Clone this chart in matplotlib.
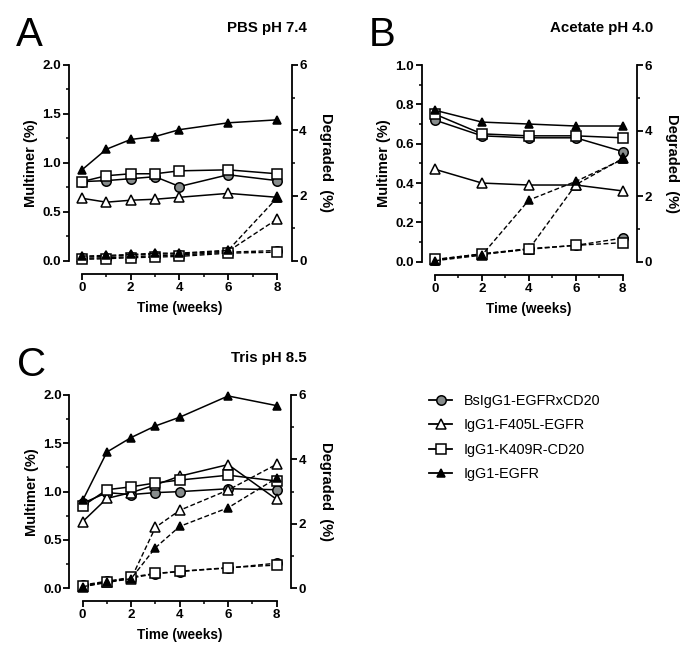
import matplotlib
matplotlib.use("Agg")
import matplotlib.pyplot as plt
from matplotlib.lines import Line2D
from matplotlib.ticker import MultipleLocator

plt.rcParams["font.family"] = ["Liberation Sans", "DejaVu Sans"]

# --- data ---
weeks_A = [0, 1, 2, 3, 4, 6, 8]
weeks_B = [0, 2, 4, 6, 8]
weeks_C = [0, 1, 2, 3, 4, 6, 8]

# PBS pH 7.4
bs_A_mult = [0.81, 0.82, 0.84, 0.86, 0.76, 0.88, 0.82]
f405_A_mult = [0.64, 0.60, 0.62, 0.63, 0.65, 0.69, 0.65]
k409_A_mult = [0.81, 0.87, 0.89, 0.89, 0.92, 0.93, 0.89]
egfr_A_mult = [0.93, 1.14, 1.24, 1.27, 1.34, 1.41, 1.44]
bs_A_deg = [0.08, 0.10, 0.13, 0.16, 0.18, 0.27, 0.32]
f405_A_deg = [0.12, 0.14, 0.18, 0.21, 0.22, 0.30, 1.28]
k409_A_deg = [0.05, 0.07, 0.10, 0.12, 0.14, 0.24, 0.27]
egfr_A_deg = [0.15, 0.17, 0.20, 0.24, 0.24, 0.33, 1.93]

# Acetate pH 4.0
bs_B_mult = [0.72, 0.64, 0.63, 0.63, 0.56]
f405_B_mult = [0.47, 0.40, 0.39, 0.39, 0.36]
k409_B_mult = [0.75, 0.65, 0.64, 0.64, 0.63]
egfr_B_mult = [0.77, 0.71, 0.70, 0.69, 0.69]
bs_B_deg = [0.06, 0.24, 0.40, 0.50, 0.72]
f405_B_deg = [0.05, 0.22, 0.38, 2.35, 3.15]
k409_B_deg = [0.07, 0.24, 0.38, 0.50, 0.58]
egfr_B_deg = [0.03, 0.20, 1.88, 2.45, 3.12]

# Tris pH 8.5
bs_C_mult = [0.88, 0.99, 0.97, 0.99, 1.00, 1.03, 1.02]
f405_C_mult = [0.69, 0.93, 0.99, 1.07, 1.16, 1.28, 0.92]
k409_C_mult = [0.85, 1.02, 1.05, 1.09, 1.12, 1.17, 1.11]
egfr_C_mult = [0.91, 1.41, 1.56, 1.68, 1.77, 1.99, 1.89]
bs_C_deg = [0.10, 0.22, 0.32, 0.45, 0.52, 0.63, 0.78]
f405_C_deg = [0.05, 0.20, 0.30, 1.89, 2.42, 3.05, 3.85]
k409_C_deg = [0.07, 0.20, 0.35, 0.46, 0.53, 0.64, 0.72]
egfr_C_deg = [0.05, 0.18, 0.30, 1.26, 1.92, 2.50, 3.42]

series_names = ["BsIgG1-EGFRxCD20", "IgG1-F405L-EGFR", "IgG1-K409R-CD20", "IgG1-EGFR"]

# marker style per series: (marker, facecolor, size)
STYLES = [
    ("o", "#878c8c", 6.8),
    ("^", "white", 7.2),
    ("s", "white", 7.0),
    ("^", "black", 5.2),
]


def draw_panel(rect, letter, title, weeks, mult, deg, ymax, ymajor, yminor):
    ax = fig.add_axes(rect)
    ax2 = ax.twinx()
    ax.set_xlim(0, 8)
    ax.set_ylim(0, ymax)
    ax2.set_ylim(0, 6)

    # degraded (dashed) first, multimer (solid) on top
    for vals, (m, fc, ms) in zip(deg, STYLES):
        ax2.plot(weeks, vals, ls=(0, (3.5, 1.8)), color="black", lw=1.0,
                 marker=m, mfc=fc, mec="black", ms=ms, mew=1.1, clip_on=False, zorder=3)
    for vals, (m, fc, ms) in zip(mult, STYLES):
        ax.plot(weeks, vals, ls="-", color="black", lw=1.1,
                marker=m, mfc=fc, mec="black", ms=ms, mew=1.1, clip_on=False, zorder=3)

    for a in (ax, ax2):
        a.spines["top"].set_visible(False)
        a.patch.set_visible(False)
    ax.spines["right"].set_visible(False)
    ax2.spines["left"].set_visible(False)
    ax2.spines["bottom"].set_visible(False)
    ax.spines["left"].set_position(("outward", 9.5))
    ax.spines["bottom"].set_position(("outward", 9.5))
    ax2.spines["right"].set_position(("outward", 10.5))
    ax.spines["left"].set_bounds(0, ymax)
    ax.spines["bottom"].set_bounds(0, 8)
    ax2.spines["right"].set_bounds(0, 6)
    for s in ("left", "bottom"):
        ax.spines[s].set_linewidth(1.3)
    ax2.spines["right"].set_linewidth(1.3)

    ax.xaxis.set_major_locator(MultipleLocator(2))
    ax.xaxis.set_minor_locator(MultipleLocator(1))
    ax.yaxis.set_major_locator(MultipleLocator(ymajor))
    ax.yaxis.set_minor_locator(MultipleLocator(yminor))
    ax2.yaxis.set_major_locator(MultipleLocator(2))
    ax2.yaxis.set_minor_locator(MultipleLocator(1))
    ax.yaxis.set_major_formatter(plt.FormatStrFormatter("%.1f"))

    for a in (ax, ax2):
        a.tick_params(which="major", length=4, width=1.3, labelsize=9.6, pad=1.5)
        a.tick_params(which="minor", length=2.5, width=1.1)
        for lab in a.get_xticklabels() + a.get_yticklabels():
            lab.set_fontweight("bold")

    ax.set_xlabel("Time (weeks)", fontsize=9.8, fontweight="bold", labelpad=5)
    ax.set_ylabel("Multimer (%)", fontsize=10.5, fontweight="bold", labelpad=3)
    ax2.set_ylabel("Degraded  (%)", fontsize=10.5, fontweight="bold", rotation=-90, labelpad=19)

    x0, y0, w, h = rect
    fig.text(x0 + w + 0.043, y0 + h + 0.056, title, ha="right", va="center",
             fontsize=10.8, fontweight="bold")
    fig.text(x0 - 0.094, y0 + h + 0.045, letter, ha="left", va="center", fontsize=29)
    return ax


fig = plt.figure(figsize=(7.0, 6.67), dpi=100)

draw_panel([0.1171, 0.6087, 0.2786, 0.2939], "A", "PBS pH 7.4", weeks_A,
           [bs_A_mult, f405_A_mult, k409_A_mult, egfr_A_mult],
           [bs_A_deg, f405_A_deg, k409_A_deg, egfr_A_deg], 2.0, 0.5, 0.25)
draw_panel([0.6214, 0.6076, 0.2682, 0.2949], "B", "Acetate pH 4.0", weeks_B,
           [bs_B_mult, f405_B_mult, k409_B_mult, egfr_B_mult],
           [bs_B_deg, f405_B_deg, k409_B_deg, egfr_B_deg], 1.0, 0.2, 0.1)
draw_panel([0.1181, 0.1180, 0.2771, 0.2898], "C", "Tris pH 8.5", weeks_C,
           [bs_C_mult, f405_C_mult, k409_C_mult, egfr_C_mult],
           [bs_C_deg, f405_C_deg, k409_C_deg, egfr_C_deg], 2.0, 0.5, 0.25)

handles = [Line2D([], [], color="black", lw=1.3, marker=m, mfc=fc, mec="black", ms=ms, mew=1.1)
           for (m, fc, ms) in STYLES]
fig.legend(handles, series_names, loc="upper left", bbox_to_anchor=(0.605, 0.418),
           frameon=False, fontsize=10.4, handlelength=1.6, handletextpad=0.8,
           labelspacing=0.72, borderaxespad=0)

fig.savefig("out.png", dpi=100)
